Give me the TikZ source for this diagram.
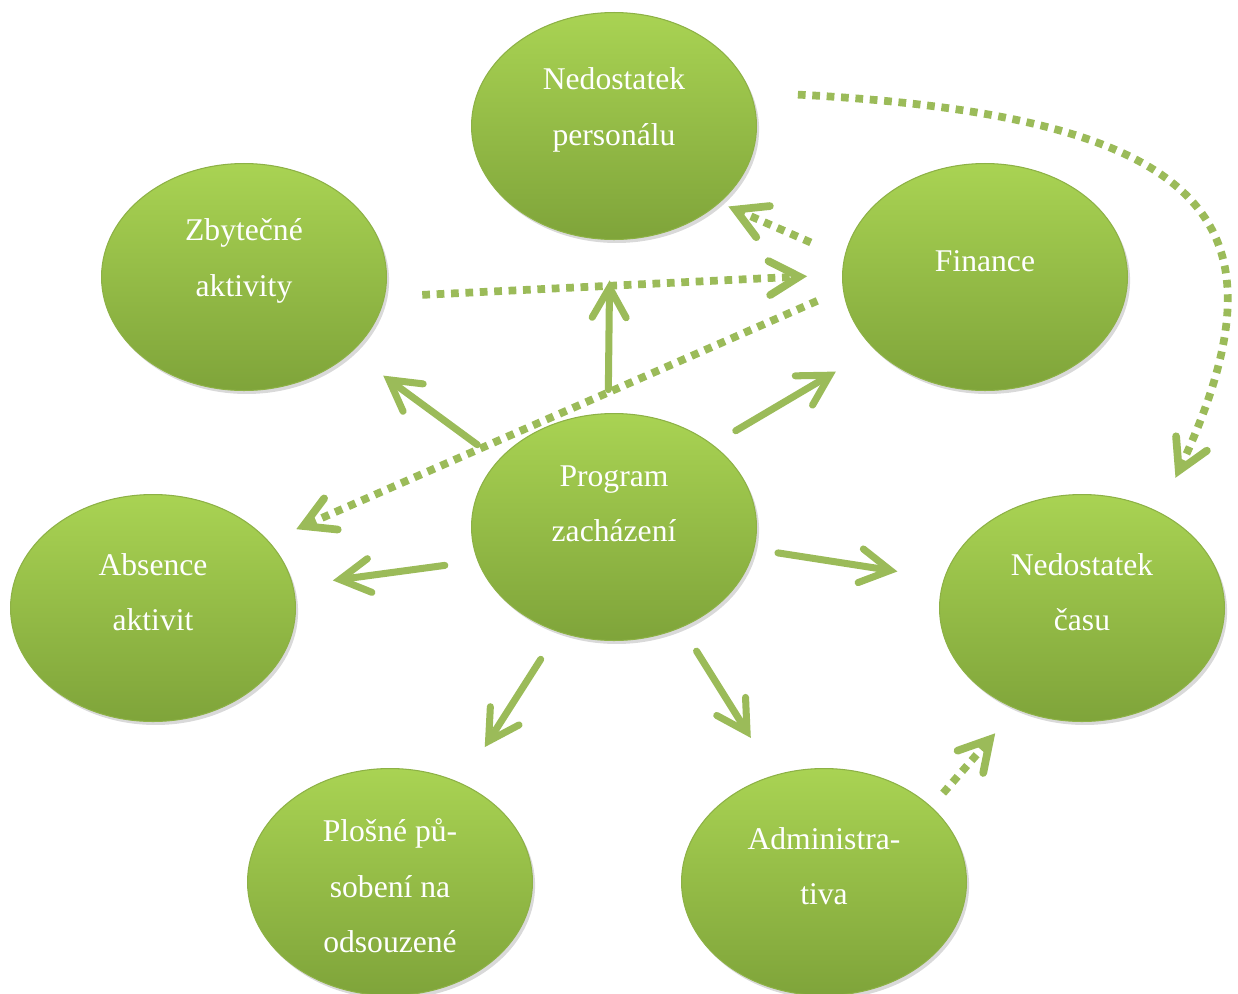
\documentclass[tikz,border=0pt]{standalone}
\usepackage{fontspec}
\setmainfont{Liberation Serif}
\usepackage{tikz}
\usetikzlibrary{shapes,arrows.meta,positioning,shadows}

\definecolor{ballTop}{HTML}{A9D353}
\definecolor{ballBottom}{HTML}{7FA43A}
\definecolor{ballEdge}{HTML}{8DB146}
\definecolor{arrGreen}{HTML}{9BBB59}

\begin{document}
\begin{tikzpicture}[x=0.02cm, y=0.02cm,
  ball/.style={ellipse, minimum width=5.7cm, minimum height=4.54cm, inner sep=0pt, outer sep=0pt,
    top color=ballTop, bottom color=ballBottom, draw=ballEdge, line width=0.6pt,
    drop shadow={opacity=0.3, shadow xshift=1.5pt, shadow yshift=-2pt}},
  txt/.style={text=white, align=center, font=\fontsize{18}{31.5}\selectfont, yshift=0.32cm},
  arr/.style={arrGreen, line width=4pt, line cap=round,
    -{Straight Barb[length=0.6cm, width=0.68cm, line cap=round, line join=miter]}},
  dots/.style={arr, line width=4.4pt, line cap=butt, dash pattern=on 4.4pt off 3.8pt}]
  \useasboundingbox (0,0) rectangle (1238,-994);

  \node[ball, label={[txt]center:Nedostatek\\personálu}] (pers) at (614,-126) {};
  \node[ball, label={[txt]center:Zbytečné\\aktivity}] (zbyt) at (244,-277) {};
  \node[ball, label={[txt]center:Finance}] (fin) at (985,-277) {};
  \node[ball, label={[txt, yshift=0.14cm]center:Program\\zacházení}] (prog) at (614,-527) {};
  \node[ball, label={[txt]center:Absence\\aktivit}] (abs) at (153,-608) {};
  \node[ball, label={[txt]center:Nedostatek\\času}] (cas) at (1082,-608) {};
  \node[ball, label={[txt, yshift=-0.4cm]center:Plošné pů-\\sobení na\\odsouzené}] (plos) at (390,-882) {};
  \node[ball, label={[txt]center:Administra-\\tiva}] (adm) at (824,-882) {};

  \draw[arr, shorten <=0.48cm, shorten >=0.82cm] (prog.93) -- (pers.268);
  \draw[arr, shorten <=0.53cm, shorten >=0.80cm] (prog.150) -- (zbyt.-35);
  \draw[arr, shorten <=0.55cm, shorten >=0.90cm] (prog.40) -- (fin.213);
  \draw[arr, shorten <=0.67cm, shorten >=0.81cm] (prog.194) -- (abs.9);
  \draw[arr, shorten <=0.49cm, shorten >=0.95cm] (prog.-9) -- (cas.168);
  \draw[arr, shorten <=0.66cm, shorten >=0.87cm] (prog.242) -- (plos.54);
  \draw[arr, shorten <=0.57cm, shorten >=0.89cm] (prog.-56) -- (adm.115);

  \draw[dots, shorten <=0.76cm, shorten >=0.71cm] (zbyt.-8) -- (fin.179);
  \draw[dots, shorten <=0.74cm, shorten >=0.20cm] (fin.172) -- (pers.-36);
  \draw[dots, shorten <=0.57cm, shorten >=0.61cm] (fin.185) -- (abs.30);
  \draw[dots, shorten <=0.96cm, shorten >=0.77cm] (pers.14) .. controls +(-3:470) and +(65:317) .. (cas.51);
  \draw[dots, shorten <=0.37cm, shorten >=0.65cm] (adm.35) -- (cas.237);
\end{tikzpicture}
\end{document}
